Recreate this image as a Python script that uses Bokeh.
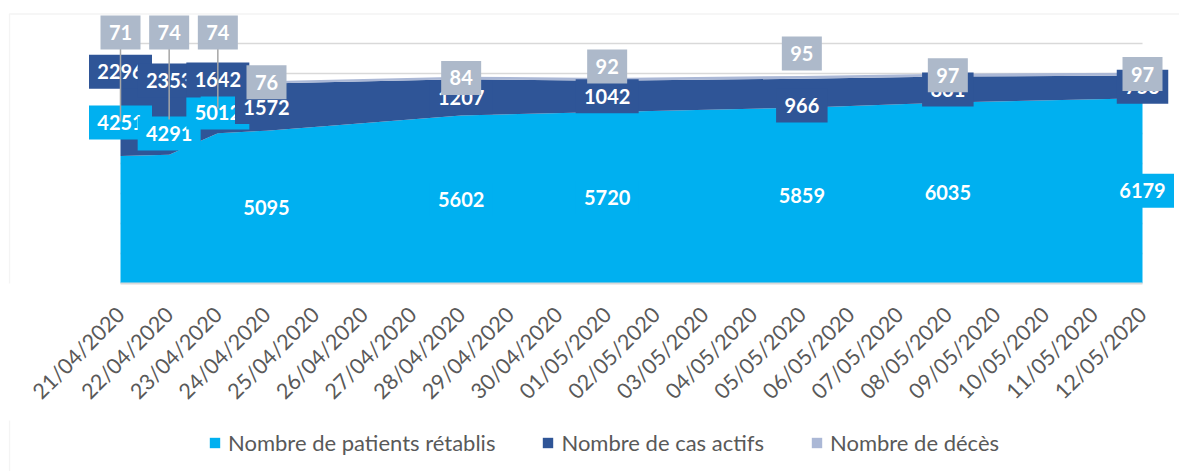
from datetime import datetime
from bokeh.plotting import figure
from bokeh.layouts import column
from bokeh.models import Range1d, LinearAxis, FixedTicker, BoxAnnotation, ColumnDataSource
from bokeh.core.properties import value
from bokeh.embed import file_html
from bokeh.resources import INLINE
from math import pi

# ---------------- data ----------------
dates = ["21/04/2020", "22/04/2020", "23/04/2020", "24/04/2020", "28/04/2020",
         "01/05/2020", "05/05/2020", "08/05/2020", "12/05/2020"]
recovered = [4251, 4291, 5012, 5095, 5602, 5720, 5859, 6035, 6179]
active = [2296, 2353, 1642, 1572, 1207, 1042, 966, 861, 753]
deaths = [71, 74, 74, 76, 84, 92, 95, 97, 97]

tick_labels = ["21/04/2020", "22/04/2020", "23/04/2020", "24/04/2020", "25/04/2020",
               "26/04/2020", "27/04/2020", "28/04/2020", "29/04/2020", "30/04/2020",
               "01/05/2020", "02/05/2020", "03/05/2020", "04/05/2020", "05/05/2020",
               "06/05/2020", "07/05/2020", "08/05/2020", "09/05/2020", "10/05/2020",
               "11/05/2020", "12/05/2020"]

series_names = ["Nombre de patients rétablis", "Nombre de cas actifs", "Nombre de décès"]

# label centres that were moved by hand in the original (None = centre of band)
rec_label_pos = [5370, 5000, 5700, None, None, None, None, None, None]
act_label_pos = [7060, 6770, 6800, None, None, None, 5930, None, None]
dea_label_pos = [8370, 8370, 8370, None, None, 7230, 7670, None, None]
dea_leader = [True, True, True, False, False, False, False, False, False]

# ---------------- styles / layout ----------------
C_REC = "#00B0F0"
C_ACT = "#2F5597"
C_DEA = "#ABB8D6"
C_DEA_BOX = "#ADB9CA"
GRID = "#D9D9D9"
TXT = "#595959"
FONT = "Lato"

W = 1179
H1, H2 = 420, 51
PX_LEFT, PX_RIGHT = 120, 1142      # canvas x of first / last day
FRAME_TOP, FRAME_BOTTOM = 12, 283
PX_PER_UNIT = 0.03                 # 30 px per 1000
BORDER_X, BORDER_Y = 9, 13.5

t0 = datetime.strptime(tick_labels[0], "%d/%m/%Y")
xs = [(datetime.strptime(d, "%d/%m/%Y") - t0).days for d in dates]
ndays = len(tick_labels) - 1

k = (PX_RIGHT - PX_LEFT) / ndays
x_start = -PX_LEFT / k
x_end = x_start + W / k
y_top = (FRAME_BOTTOM - FRAME_TOP) / PX_PER_UNIT

p = figure(width=W, height=H1, output_backend="svg", toolbar_location=None,
           x_axis_type=None, y_axis_type=None,
           x_range=Range1d(x_start, x_end), y_range=Range1d(0, y_top),
           min_border_left=0, min_border_right=0, min_border_top=FRAME_TOP,
           min_border_bottom=H1 - FRAME_BOTTOM)
p.outline_line_color = None
p.background_fill_color = "white"
p.border_fill_color = "white"

# outer chart border (left + top)
p.add_layout(BoxAnnotation(left=x_start + BORDER_X / k, right=x_end + 50, bottom=-50000,
                           top=(FRAME_BOTTOM - BORDER_Y) / PX_PER_UNIT, fill_alpha=0,
                           line_color=GRID, line_width=1.3))

# gridlines limited to plot area
levels = list(range(1000, 9000, 1000))
p.segment(x0=[min(xs)] * len(levels), x1=[max(xs)] * len(levels), y0=levels, y1=levels,
          line_color=GRID, line_width=1.6)

src = ColumnDataSource(dict(x=xs, rec=recovered, act=active, dea=deaths))
p.varea_stack(stackers=["rec", "act", "dea"], x="x", source=src,
              color=[C_REC, C_ACT, C_DEA])

# x axis
ax = LinearAxis(ticker=FixedTicker(ticks=list(range(len(tick_labels)))),
                major_label_overrides={i: s for i, s in enumerate(tick_labels)},
                major_label_orientation=pi / 4, bounds=(0, ndays))
ax.axis_line_color = GRID
ax.axis_line_width = 2
ax.major_tick_line_color = None
ax.minor_tick_line_color = None
ax.major_label_text_font = FONT
ax.major_label_text_font_size = "21.5px"
ax.major_label_text_color = TXT
ax.major_label_standoff = 21
p.add_layout(ax, "below")

# ---------------- data labels ----------------
def box_w(v):
    return 17 + 11.5 * len(str(v))

BOX_H = 34

def draw_label(x, y, v, fill):
    p.rect(x=[x], y=[y], width=box_w(v), height=BOX_H, width_units="screen",
           height_units="screen", fill_color=fill, line_color=None)
    p.text(x=[x], y=[y], text=[str(v)], text_align="center", text_baseline="middle",
           text_color="white", text_font=value(FONT), text_font_style="bold",
           text_font_size="20px")

for i, x in enumerate(xs):
    y = rec_label_pos[i] if rec_label_pos[i] is not None else recovered[i] / 2
    draw_label(x, y, recovered[i], C_REC)

for i, x in enumerate(xs):
    y = act_label_pos[i] if act_label_pos[i] is not None else recovered[i] + active[i] / 2
    draw_label(x, y, active[i], C_ACT)

for i, x in enumerate(xs):
    if dea_leader[i]:
        p.segment(x0=[x], x1=[x], y0=[dea_label_pos[i]],
                  y1=[recovered[i] + active[i] / 2], line_color="#A6A6A6", line_width=1.5)

for i, x in enumerate(xs):
    y = dea_label_pos[i] if dea_label_pos[i] is not None else recovered[i] + active[i] + deaths[i] / 2
    draw_label(x, y, deaths[i], C_DEA_BOX)

# ---------------- legend strip ----------------
OFF = -100000
p2 = figure(width=W, height=H2, output_backend="svg", toolbar_location=None,
            x_axis_type=None, y_axis_type=None,
            x_range=Range1d(OFF, OFF + W), y_range=Range1d(0, H2),
            min_border=0)
p2.outline_line_color = None
p2.background_fill_color = "white"
p2.border_fill_color = "white"
p2.add_layout(BoxAnnotation(left=OFF + BORDER_X, right=OFF + W + 50, bottom=-1000,
                            top=H2 + 1000, fill_alpha=0, line_color=GRID, line_width=1.3))
p2.varea_stack(stackers=["rec", "act", "dea"], x="x", source=src,
               color=[C_REC, C_ACT, C_DEA], legend_label=series_names)

lg = p2.legend[0]
lg.orientation = "horizontal"
lg.location = (208, 15)
lg.label_text_font = FONT
lg.label_text_font_size = "22px"
lg.label_text_color = TXT
lg.label_height = 26
lg.glyph_width = 13
lg.glyph_height = 13
lg.label_standoff = 7
lg.spacing = 46
lg.padding = 0
lg.margin = 0
lg.border_line_color = None
lg.background_fill_alpha = 0

layout = column(p, p2, spacing=0)
open("out.html", "w").write(file_html(layout, INLINE))
